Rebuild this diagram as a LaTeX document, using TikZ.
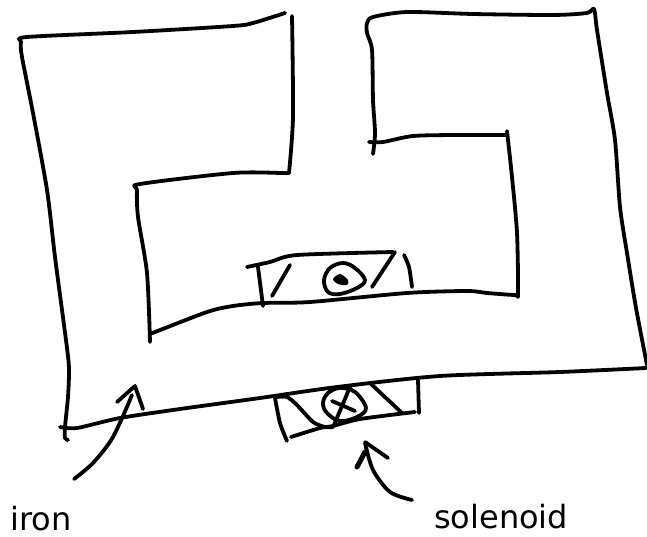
\documentclass[tikz,border=0pt]{standalone}
\usepackage{fontspec}
\setmainfont{DejaVu Sans}
\tikzset{
  ink/.style={draw=black,line width=3.8pt,line cap=round,line join=round},
  lbl/.style={inner sep=0pt,font=\fontsize{32}{38}\selectfont,anchor=base west}
}
\begin{document}
\begin{tikzpicture}[x=1pt,y=-1pt]
\useasboundingbox (0,0) rectangle (647,537);
% iron outline
\draw[ink] plot[smooth,tension=0.45] coordinates {(285,13) (253,23) (233,26) (133,32) (27,37) (21,42) (22,57) (33,113) (47,190) (55,257) (67,348) (69,370) (68,397) (65,427) (65,438) (68,440)};
\draw[ink] plot[smooth,tension=0.45] coordinates {(292,16) (293,117) (289,173)};
\draw[ink] plot[smooth,tension=0.45] coordinates {(289,173) (283,173) (233,173) (140,184) (137,190) (138,217) (147,273) (150,342)};
\draw[ink] plot[smooth,tension=0.45] coordinates {(150,334) (207,312) (233,306) (263,303) (310,302) (407,293) (467,291) (487,293) (515,295) (518,293) (517,233) (512,177) (507,131)};
\draw[ink] plot[smooth,tension=0.45] coordinates {(507,135) (457,135) (413,136) (383,142) (369,142)};
\draw[ink] plot[smooth,tension=0.45] coordinates {(373,154) (375,133) (373,100) (372,50) (367,33) (367,23) (373,17) (407,12) (473,14) (553,15) (587,13) (594,9) (597,30) (607,93) (615,140) (620,207) (627,253) (636,308) (647,365)};
\draw[ink] plot[smooth,tension=0.45] coordinates {(646,368) (560,372) (440,376) (337,387) (260,398) (180,409) (120,418) (77,428) (60,427)};
% upper solenoid
\draw[ink] plot[smooth,tension=0.45] coordinates {(247,267) (270,262) (297,255) (393,252)};
\draw[ink] (395,252) -- (372,287);
\draw[ink] (258,267) -- (263,306);
\draw[ink] (290,265) -- (272,296);
\draw[ink] plot[smooth,tension=0.45] coordinates {(404,255) (409,267) (412,287)};
\draw[ink] plot[smooth cycle,tension=0.6] coordinates {(324,280) (330,268) (343,263) (355,268) (365,280) (357,288) (340,294) (328,292)};
\fill[black] plot[smooth cycle] coordinates {(333,279) (340,274) (348,280) (347,285) (338,284)};
% lower solenoid
\draw[ink] plot[smooth,tension=0.45] coordinates {(275,398) (280,423) (287,441)};
\draw[ink] plot[smooth,tension=0.45] coordinates {(291,437) (320,428) (333,426) (360,419) (415,412)};
\draw[ink] (418,380) -- (419,413);
\draw[ink] plot[smooth,tension=0.45] coordinates {(277,397) (287,397) (297,405) (313,422) (325,427) (333,427)};
\draw[ink] (350,387) -- (334,425);
\draw[ink] plot[smooth cycle,tension=0.6] coordinates {(323,403) (328,393) (340,388) (355,392) (366,408) (357,417) (340,421) (327,413)};
\draw[ink] (332,401) -- (355,411);
\draw[ink] (370,383) -- (402,413);
% arrows
\draw[ink] plot[smooth,tension=0.5] coordinates {(412,500) (390,492) (373,470) (365,443)};
\draw[ink,line width=5pt] (357,467) -- (365,452);
\draw[ink] (365,442) -- (388,458);
\draw[ink] plot[smooth,tension=0.5] coordinates {(74,479) (93,463) (113,437) (132,395)};
\draw[ink] (117,402) -- (135,386) -- (143,409);
% labels
\node[lbl] (iron) at (10,530) {iron};
\node[lbl] (solenoid) at (434,528) {solenoid};
\end{tikzpicture}
\end{document}
